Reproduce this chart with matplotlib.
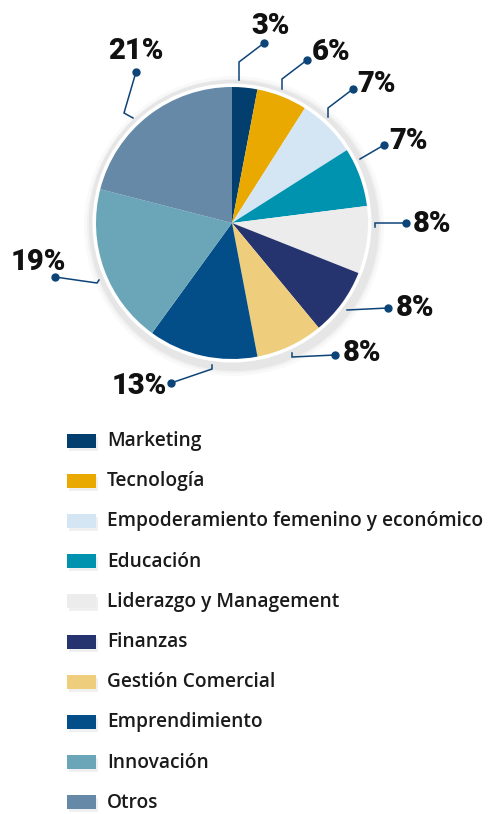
import numpy as np
import matplotlib.pyplot as plt
from matplotlib.patches import Circle, Rectangle

# data
categories = ['Marketing', 'Tecnología', 'Empoderamiento femenino y económico',
              'Educación', 'Liderazgo y Management', 'Finanzas',
              'Gestión Comercial', 'Emprendimiento', 'Innovación', 'Otros']
shares = [3, 6, 7, 7, 8, 8, 8, 13, 19, 21]
pct_labels = ['3%', '6%', '7%', '7%', '8%', '8%', '8%', '13%', '19%', '21%']
colors = ['#023f6e', '#e9a900', '#d4e5f3', '#0093b0', '#ececec',
          '#25346f', '#eecd7d', '#034d89', '#6aa6b7', '#6589a7']

W, H = 497, 814
def Y(y):  # pixel row (top origin) -> data y
    return H - y

# layout (pixels, top-left origin)
cx, cy, R = 232, 223, 136
text_pos = [(271, 26), (331, 52), (377, 84), (408, 141), (432, 224),
            (415, 308), (362, 353), (139, 386), (38, 262), (136, 51)]
leaders = [
    [(239, 80), (239, 62), (264, 43)],
    [(282, 89), (282, 79), (307, 60)],
    [(328, 117), (328, 108), (353, 89)],
    [(360, 159), (384, 145)],
    [(375, 227), (375, 223), (406, 223)],
    [(347, 310), (388, 308)],
    [(292, 353), (292, 357), (335, 355)],
    [(212, 365), (212, 369), (171, 383)],
    [(99, 280), (97, 283), (55, 277)],
    [(133, 118), (124, 113), (136, 72)],
]
line_col = '#0d4478'

fig = plt.figure(figsize=(W / 100, H / 100), dpi=100)
ax = fig.add_axes([0, 0, 1, 1])

# soft ring / shadow behind the pie
for r, a in [(150, 0.05), (147, 0.08), (145, 0.12)]:
    ax.add_patch(Circle((cx + 2, Y(cy + 3)), r, color='#9a9a9a', alpha=a, lw=0, zorder=1))
ax.add_patch(Circle((cx, Y(cy)), 143, color='#e6e6e6', lw=0, zorder=2))
ax.add_patch(Circle((cx, Y(cy)), 139.5, color='white', lw=0, zorder=3))

wedges, _ = ax.pie(shares, colors=colors, startangle=90, counterclock=False,
                   center=(cx, Y(cy)), radius=R, frame=True,
                   wedgeprops=dict(linewidth=0, zorder=4))
for w in wedges:
    w.set_zorder(4)

for pts, (tx, ty), lab in zip(leaders, text_pos, pct_labels):
    xs = [p[0] for p in pts]
    ys = [Y(p[1]) for p in pts]
    ax.plot(xs, ys, color=line_col, lw=1.1, zorder=5, solid_joinstyle='miter')
    ax.plot(xs[-1], ys[-1], 'o', color=line_col, ms=5, zorder=6)
    ax.text(tx, Y(ty), lab, ha='center', va='center', fontsize=21,
            fontweight='black', family=['Roboto', 'DejaVu Sans'], color='#111111', zorder=6)

# legend
for i, (cat, col) in enumerate(zip(categories, colors)):
    yc = 440.5 + i * 40.2
    ax.add_patch(Rectangle((69, Y(yc + 10)), 29, 14, color='#000000', alpha=0.06, lw=0, zorder=1))
    ax.add_patch(Rectangle((67, Y(yc + 7)), 29, 14, color=col, lw=0, zorder=2))
    ax.text(107, Y(yc + 0.5), cat, ha='left', va='center', fontsize=13.8,
            fontweight='semibold', family=['Open Sans', 'DejaVu Sans'], color='#1a1a1a')

ax.set_xlim(0, W)
ax.set_ylim(0, H)
ax.set_aspect('auto')
ax.axis('off')

fig.savefig('out.png', dpi=100, facecolor='white')
